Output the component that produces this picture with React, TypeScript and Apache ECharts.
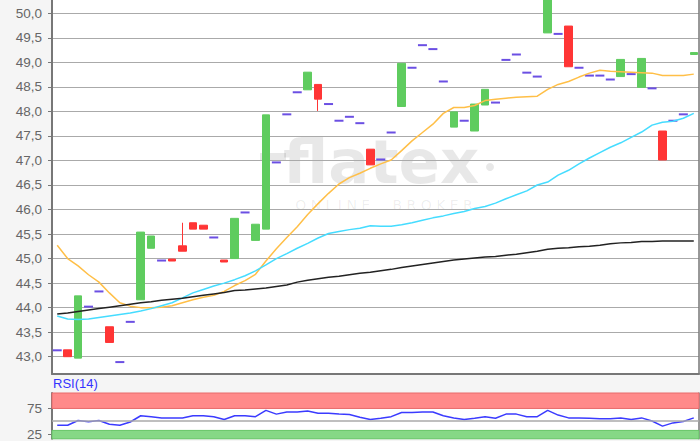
import React, { useEffect, useRef } from "react";
import * as echarts from "echarts";

// 62 trading days (no dates visible in the reference)
const days: string[] = Array.from({ length: 62 }, (_, i) => String(i + 1));

// Days shown only as a short price dash (close only)
const dashes: (number | null)[] = [
  43.13, null, null, 44.02, 44.33, null, 42.89, 43.71, null, null,
  44.96, null, null, null, null, 45.43, null, null, 45.94, null,
  null, 46.96, 47.94, 48.39, null, null, 48.15, 47.81, 47.89, 47.76,
  null, 47.02, 47.57, null, 48.89, 49.35, 49.27, 48.61, null, 47.81,
  null, null, 48.18, 49.05, 49.16, 48.79, 48.71, null, 49.58, null,
  48.89, 48.73, 48.73, 48.65, null, 48.76, null, 48.47, null, 47.81,
  47.94, null,
];

// Candles: [open, close, low, high]
const candles: ([number, number, number, number] | null)[] = [
  null, [43.14, 43.0, 43.0, 43.14], [42.97, 44.24, 42.97, 44.24], null, null,
  [43.61, 43.29, 43.29, 43.61], null, null, [44.16, 45.54, 44.16, 45.54], [45.21, 45.46, 45.21, 45.46],
  null, [44.99, 44.95, 44.95, 44.99], [45.26, 45.15, 45.15, 45.73], [45.73, 45.6, 45.6, 45.73], [45.68, 45.6, 45.6, 45.68],
  null, [44.97, 44.93, 44.93, 44.97], [45.0, 45.82, 45.0, 45.82], null, [45.37, 45.7, 45.37, 45.7],
  [45.6, 47.93, 45.6, 47.93], null, null, null, [48.44, 48.8, 48.44, 48.8],
  [48.55, 48.25, 48.01, 48.55], null, null, null, null,
  [47.23, 46.91, 46.91, 47.23], null, null, [48.1, 48.98, 48.1, 48.98], null,
  null, null, null, [47.68, 47.99, 47.68, 47.99], null,
  [47.6, 48.15, 47.6, 48.15], [48.13, 48.45, 48.13, 48.45], null, null, null,
  null, null, [49.6, 50.6, 49.6, 50.6], null, [49.74, 48.91, 48.91, 49.74],
  null, null, null, null, [48.71, 49.06, 48.71, 49.06],
  null, [48.49, 49.08, 48.49, 49.08], null, [47.6, 47.01, 47.01, 47.6], null,
  null, [49.16, 49.2, 49.16, 49.2],
];

const maOrange: number[] = [
  45.27, 45.0, 44.85, 44.67, 44.52, 44.3, 44.1, 44.03, 44.0, 44.0,
  44.01, 44.04, 44.1, 44.16, 44.21, 44.25, 44.33, 44.45, 44.55, 44.68,
  44.95, 45.2, 45.43, 45.65, 45.9, 46.12, 46.33, 46.52, 46.65, 46.74,
  46.84, 46.93, 47.01, 47.2, 47.4, 47.57, 47.74, 47.96, 48.08, 48.08,
  48.12, 48.22, 48.25, 48.27, 48.29, 48.3, 48.31, 48.45, 48.55, 48.61,
  48.7, 48.78, 48.84, 48.82, 48.81, 48.8, 48.79, 48.78, 48.73, 48.73,
  48.73, 48.76,
];

const maCyan: number[] = [
  43.83, 43.77, 43.76, 43.77, 43.8, 43.83, 43.86, 43.89, 43.93, 43.98,
  44.04, 44.1, 44.2, 44.3, 44.37, 44.44, 44.5, 44.57, 44.65, 44.75,
  44.87, 45.0, 45.1, 45.21, 45.31, 45.42, 45.51, 45.55, 45.59, 45.62,
  45.67, 45.66, 45.66, 45.69, 45.73, 45.78, 45.83, 45.87, 45.92, 45.96,
  46.02, 46.06, 46.13, 46.22, 46.3, 46.38, 46.5, 46.56, 46.7, 46.8,
  46.93, 47.05, 47.16, 47.27, 47.36, 47.47, 47.58, 47.72, 47.78, 47.8,
  47.86, 47.96,
];

const maBlack: number[] = [
  43.87, 43.89, 43.92, 43.95, 43.98, 44.01, 44.04, 44.07, 44.1, 44.12,
  44.15, 44.17, 44.19, 44.22, 44.25, 44.28, 44.31, 44.35, 44.36, 44.38,
  44.4, 44.43, 44.46, 44.52, 44.56, 44.59, 44.62, 44.64, 44.67, 44.7,
  44.72, 44.75, 44.78, 44.82, 44.85, 44.88, 44.91, 44.94, 44.97, 44.99,
  45.01, 45.03, 45.04, 45.07, 45.09, 45.12, 45.15, 45.19, 45.21, 45.22,
  45.24, 45.25, 45.27, 45.3, 45.32, 45.33, 45.35, 45.35, 45.36, 45.36,
  45.36, 45.36,
];

const rsi: number[] = [
  42.2, 42.2, 51.5, 49.1, 51.5, 44.1, 42.2, 48.5, 60.7, 58.9,
  56.5, 56.5, 56.5, 60.7, 60.7, 58.9, 53.3, 60.7, 60.7, 58.9,
  71.3, 63.9, 68.1, 68.1, 70.0, 65.7, 65.7, 63.9, 63.0, 57.8,
  53.3, 55.9, 58.9, 67.0, 67.0, 68.1, 68.1, 60.7, 56.5, 53.3,
  55.9, 58.9, 55.9, 63.9, 63.9, 58.9, 58.9, 71.3, 62.0, 56.5,
  56.5, 55.6, 54.6, 54.6, 56.5, 53.3, 56.5, 50.4, 40.4, 46.7,
  49.6, 56.5,
];

const rsiTicks: number[] = [25, 75];
const rsiOverbought = 75;
const rsiOversold = 32;

const priceMin = 42.647;
const priceMax = 50.271;
const rsiMin = 15.7;
const rsiMax = 105.2;

const fmtPrice = (v: number) => {
  const r = Math.round(v * 2) / 2;
  if (Math.abs(v - r) > 1e-6) return "";
  return r.toFixed(1).replace(".", ",");
};

export default function App() {
  const ref = useRef<HTMLDivElement>(null);

  useEffect(() => {
    if (!ref.current) return;
    const chart = echarts.init(ref.current, null, { renderer: "svg" });
    const axisColor = "#777";
    const labelStyle = {
      color: "#666",
      fontSize: 13.5,
      fontFamily: "'Liberation Sans', Arial, sans-serif",
      margin: 10,
    };
    const wm = "rgba(0,0,0,0.09)";
    const option: any = {
      animation: false,
      backgroundColor: "#f5f5f5",
      title: {
        text: "RSI(14)",
        left: 53,
        top: 377,
        padding: 0,
        textStyle: {
          fontSize: 13,
          fontWeight: "normal",
          color: "#3333ff",
          fontFamily: "'Liberation Sans', Arial, sans-serif",
        },
      },
      graphic: [
        {
          type: "group",
          z: 1,
          silent: true,
          children: [
            { type: "rect", shape: { x: 260, y: 153, width: 26, height: 7 }, style: { fill: wm } },
            {
              type: "text",
              x: 283,
              y: 161,
              style: {
                text: "flatex",
                fontSize: 61,
                fontWeight: "bold",
                fontFamily: "'DejaVu Sans', sans-serif",
                fill: wm,
                verticalAlign: "middle",
              },
            },
            { type: "circle", shape: { cx: 490, cy: 167, r: 4 }, style: { fill: wm } },
            {
              type: "text",
              x: 384,
              y: 205,
              style: {
                text: "O N L I N E     B R O K E R",
                fontSize: 14,
                fontFamily: "'DejaVu Sans', sans-serif",
                fill: "rgba(0,0,0,0.07)",
                align: "center",
                verticalAlign: "middle",
              },
            },
          ],
        },
      ],
      grid: [
        { left: 52, right: 1, top: 0, height: 374, show: true, backgroundColor: "#fff", borderWidth: 0 },
        { left: 52, right: 1, top: 393, height: 48, show: true, backgroundColor: "#fff", borderWidth: 0 },
      ],
      xAxis: [
        {
          type: "category",
          gridIndex: 0,
          data: days,
          boundaryGap: true,
          axisLine: { show: true, lineStyle: { color: axisColor, width: 2 } },
          axisTick: { show: false },
          axisLabel: { show: false },
          splitLine: { show: false },
        },
        {
          type: "category",
          gridIndex: 1,
          data: days,
          boundaryGap: true,
          axisLine: { show: false },
          axisTick: { show: false },
          axisLabel: { show: false },
          splitLine: { show: false },
        },
      ],
      yAxis: [
        {
          type: "value",
          gridIndex: 0,
          min: priceMin,
          max: priceMax,
          splitNumber: 15,
          axisLine: { show: true, lineStyle: { color: axisColor, width: 2 } },
          axisTick: { show: true, length: 4, lineStyle: { color: axisColor } },
          axisLabel: { ...labelStyle, formatter: fmtPrice, showMinLabel: false, showMaxLabel: false },
          splitLine: { show: true, showMinLine: false, showMaxLine: false, lineStyle: { color: "#aaa", width: 1 } },
        },
        {
          type: "value",
          gridIndex: 0,
          position: "right",
          min: priceMin,
          max: priceMax,
          axisLine: { show: true, lineStyle: { color: axisColor, width: 1.5 } },
          axisTick: { show: false },
          axisLabel: { show: false },
          splitLine: { show: false },
        },
        {
          type: "value",
          gridIndex: 1,
          min: rsiMin,
          max: rsiMax,
          axisLine: { show: true, lineStyle: { color: axisColor, width: 2 } },
          axisTick: { show: true, length: 4, customValues: rsiTicks, lineStyle: { color: axisColor } },
          axisLabel: { ...labelStyle, customValues: rsiTicks },
          splitLine: { show: false },
        },
        {
          type: "value",
          gridIndex: 1,
          position: "right",
          min: rsiMin,
          max: rsiMax,
          axisLine: { show: true, lineStyle: { color: axisColor, width: 1.5 } },
          axisTick: { show: false },
          axisLabel: { show: false },
          splitLine: { show: false },
        },
      ],
      series: [
        {
          type: "candlestick",
          xAxisIndex: 0,
          yAxisIndex: 0,
          barWidth: 8,
          clip: true,
          data: candles.map((c) => (c ? c : "-")),
          itemStyle: {
            color: "#5fcc5f",
            color0: "#ff3535",
            borderColor: "#5fcc5f",
            borderColor0: "#ff3535",
            borderWidth: 1,
          },
        },
        {
          type: "scatter",
          xAxisIndex: 0,
          yAxisIndex: 0,
          symbol: "rect",
          symbolSize: [9, 2],
          data: dashes.map((v) => (v == null ? "-" : v)),
          itemStyle: { color: "#6b4fe3", opacity: 1 },
        },
        {
          type: "line",
          xAxisIndex: 0,
          yAxisIndex: 0,
          data: maOrange,
          symbol: "none",
          lineStyle: { color: "#ffbf47", width: 1.5 },
        },
        {
          type: "line",
          xAxisIndex: 0,
          yAxisIndex: 0,
          data: maCyan,
          symbol: "none",
          lineStyle: { color: "#45dcff", width: 1.5 },
        },
        {
          type: "line",
          xAxisIndex: 0,
          yAxisIndex: 0,
          data: maBlack,
          symbol: "none",
          lineStyle: { color: "#222", width: 1.5 },
        },
        {
          type: "line",
          xAxisIndex: 1,
          yAxisIndex: 2,
          data: rsi,
          symbol: "none",
          lineStyle: { color: "#3b3bff", width: 1.5 },
          markLine: {
            silent: true,
            symbol: "none",
            label: { show: false },
            lineStyle: { color: "#aaa", width: 1.5, type: "solid" },
            data: [{ yAxis: 50 }],
          },
          markArea: {
            silent: true,
            data: [
              [
                { yAxis: rsiOverbought, itemStyle: { color: "#ff8a8a", borderColor: "#e86a6a", borderWidth: 1 } },
                { yAxis: rsiMax },
              ],
              [
                { yAxis: rsiMin, itemStyle: { color: "#86d886", borderColor: "#66c466", borderWidth: 1 } },
                { yAxis: rsiOversold },
              ],
            ],
          },
        },
      ],
    };
    chart.setOption(option);
    return () => chart.dispose();
  }, []);

  return (
    <div
      ref={ref}
      style={{ position: "fixed", left: 0, top: 0, width: 700, height: 441 }}
    />
  );
}
